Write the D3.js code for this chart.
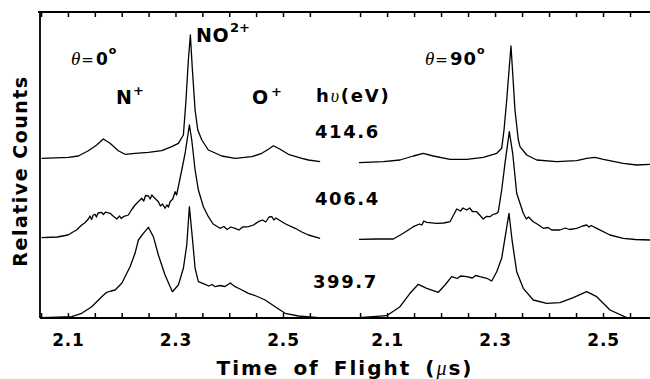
<!DOCTYPE html>
<html><head><meta charset="utf-8">
<script src="https://cdn.jsdelivr.net/npm/d3@7"></script>
<style>body{margin:0;background:#fff}svg{display:block}</style>
</head><body><svg id="c" width="650" height="379"></svg>
<script>
// ---------- data ----------
const energies = ["414.6", "406.4", "399.7"];
const angles = ["0", "90"];
const tickValues = [2.05, 2.10, 2.15, 2.20, 2.25, 2.30, 2.35, 2.40, 2.45, 2.50, 2.55];
const tickLabels = ["2.1", "2.3", "2.5"];

// theta = 0 deg, counts (stacked, arbitrary units) vs time of flight (us)
const left414 = [[2.051,159.7],[2.1007,160.7],[2.1193,162],[2.1379,167.3],[2.1535,173],[2.1658,179],[2.1783,174.7],[2.1937,167.3],[2.2062,163.7],[2.2248,164.7],[2.2496,165.7],[2.2745,167.3],[2.2931,171.3],[2.3054,174.7],[2.3147,183],[2.3192,215],[2.324,258],[2.3277,283],[2.3315,248],[2.3365,208],[2.3415,188],[2.349,178],[2.3612,168],[2.3862,162],[2.4109,159.7],[2.442,161.3],[2.4606,164.7],[2.4729,168.7],[2.4822,172.3],[2.4947,168.7],[2.5101,163.7],[2.5351,159.7],[2.5474,158],[2.5691,156.3]];
const left406 = [[2.051,80.3],[2.080,81],[2.100,83],[2.107,85.3],[2.116,88],[2.1256,93],[2.131,95],[2.1379,99],[2.141,102],[2.144,98.5],[2.147,103],[2.1504,103.7],[2.153,101],[2.156,105],[2.1628,105.7],[2.166,103.5],[2.170,106],[2.1783,104.7],[2.184,102],[2.1908,99],[2.196,102],[2.199,99.5],[2.203,101.3],[2.2123,103],[2.218,108],[2.2248,113],[2.2373,119.7],[2.241,117],[2.2443,122.5],[2.2496,122],[2.253,119],[2.256,123],[2.2589,121.3],[2.2682,116.3],[2.272,112],[2.276,114],[2.2806,109.7],[2.284,113],[2.287,111],[2.290,116.3],[2.295,119],[2.2993,126.3],[2.302,123],[2.3054,131.3],[2.3117,148],[2.3179,164.7],[2.3259,193],[2.3303,178],[2.3365,148],[2.3426,128],[2.3519,111.3],[2.3612,101.3],[2.370,94],[2.383,89.7],[2.390,91.5],[2.396,88.5],[2.403,91],[2.4109,89.7],[2.418,88],[2.425,91],[2.4357,91.3],[2.445,93],[2.4543,96.3],[2.462,98],[2.468,96],[2.474,101],[2.4792,101.3],[2.483,98],[2.487,100],[2.4979,96.3],[2.505,94],[2.5226,89.7],[2.535,86],[2.5474,83],[2.5691,79.7]];
const left399 = [[2.051,0.3],[2.080,0.8],[2.107,1.3],[2.1256,4.7],[2.1442,11.3],[2.1628,21.3],[2.1721,25.7],[2.180,27],[2.1876,28],[2.2001,34.7],[2.2155,51.3],[2.2248,64.7],[2.231,78],[2.2403,84.7],[2.2496,90.7],[2.2589,81.3],[2.2682,63],[2.2806,43],[2.2942,26.3],[2.3054,33],[2.3147,49.7],[2.321,73],[2.3259,111.3],[2.3315,79.7],[2.3365,49.7],[2.3426,36.3],[2.3551,33.7],[2.362,32],[2.368,33.5],[2.3737,31.3],[2.383,32.5],[2.392,31.5],[2.3985,33.7],[2.402,35],[2.4109,31.3],[2.420,29],[2.4357,24.7],[2.450,22],[2.4668,18],[2.4854,11.3],[2.504,4.7],[2.5288,2],[2.550,1],[2.566,0.3]];

// theta = 90 deg
const right414 = [[2.048,155.3],[2.093,156.3],[2.1239,158],[2.1486,162],[2.1671,164.7],[2.1856,162],[2.2166,158.7],[2.2475,158.7],[2.2782,160.7],[2.3031,164.7],[2.3123,169.7],[2.3166,188],[2.3216,218],[2.3264,251.3],[2.3295,272],[2.3327,244.7],[2.3369,208],[2.3431,178],[2.3462,171.3],[2.3586,163],[2.3771,158],[2.4142,156.3],[2.4512,157.3],[2.4697,159.7],[2.4851,160.7],[2.5005,158.7],[2.5375,154.7],[2.5624,153],[2.587,153.7]];
const right406 = [[2.048,78.7],[2.080,79],[2.1115,79],[2.1301,84.7],[2.1486,91.3],[2.160,94],[2.1645,93],[2.168,97],[2.1734,95.7],[2.1919,94.7],[2.205,95],[2.2166,96.3],[2.229,109],[2.236,107],[2.2405,110],[2.2475,108],[2.253,110],[2.258,106.5],[2.266,106.3],[2.2782,99],[2.284,101.5],[2.2906,101.3],[2.296,103.5],[2.3031,104.7],[2.306,106.3],[2.3123,128],[2.3184,154.7],[2.3264,186.3],[2.3327,164.7],[2.3401,124.7],[2.3523,104.7],[2.358,99],[2.362,101],[2.3708,96.3],[2.378,94],[2.3894,89.7],[2.398,90.5],[2.405,88],[2.4203,88],[2.430,90],[2.438,88.5],[2.4512,89.7],[2.462,92],[2.4697,93],[2.474,91],[2.478,92.5],[2.4883,89.7],[2.5129,83],[2.5375,79.7],[2.560,78.5],[2.587,78]];
const right399 = [[2.048,0.3],[2.0993,2.3],[2.1239,11.3],[2.1425,24.7],[2.1578,33.7],[2.1734,29.7],[2.1949,25.7],[2.2073,33],[2.2197,41.3],[2.230,39.5],[2.236,42],[2.2475,41.3],[2.258,40],[2.264,42.5],[2.2721,41.3],[2.2845,39.7],[2.2938,37],[2.3031,46.3],[2.3123,59.7],[2.3203,86.3],[2.3258,104.7],[2.3319,76.3],[2.3401,46.3],[2.3523,29.7],[2.3708,18],[2.3957,14.7],[2.4203,15.3],[2.4449,20.3],[2.4697,26.3],[2.4883,21.3],[2.5129,8],[2.5438,0.3],[2.587,0]];

const panels = [
  {angle: angles[0], domain: [2.048, 2.5707], range: [40, 321], traces: [left414, left406, left399]},
  {angle: angles[1], domain: [2.048, 2.587], range: [359, 650], traces: [right414, right406, right399]}
];

// ---------- drawing ----------
const svg = d3.select("#c");
svg.append("rect").attr("width", 650).attr("height", 379).attr("fill", "#fff");
const yTop = 12, yBot = 318;
const y = d3.scaleLinear().domain([0, 306]).range([yBot, yTop]);
const bold = "'DejaVu Sans', sans-serif";
const serif = "'Liberation Serif', 'DejaVu Serif', serif";
const fmt = d3.format(".1f");

panels.forEach(p => {
  const x = d3.scaleLinear().domain(p.domain).range(p.range);
  const axB = d3.axisBottom(x).tickValues(tickValues).tickSize(-5).tickPadding(16)
    .tickFormat(d => (tickLabels.includes(fmt(d)) && Math.abs(d * 10 - Math.round(d * 10)) < 1e-6) ? fmt(d) : "");
  const gB = svg.append("g").attr("transform", `translate(0,${yBot})`).call(axB)
    .attr("font-size", null).attr("font-family", null);
  gB.select(".domain").remove();
  gB.selectAll("line").attr("stroke", "#000").attr("stroke-width", 1.5);
  gB.selectAll("text")
    .style("font-family", bold).style("font-weight", "bold").style("font-size", "17px")
    .style("letter-spacing", "0.8px").attr("fill", "#000");
  const axT = d3.axisTop(x).tickValues(tickValues).tickSize(-5).tickFormat("");
  const gT = svg.append("g").attr("transform", `translate(0,${yTop})`).call(axT);
  gT.select(".domain").remove();
  gT.selectAll("line").attr("stroke", "#000").attr("stroke-width", 1.5);

  const line = d3.line().x(d => x(d[0])).y(d => y(d[1]));
  p.traces.forEach(tr => {
    svg.append("path").datum(tr).attr("d", line)
      .attr("fill", "none").attr("stroke", "#000").attr("stroke-width", 1.3).attr("stroke-linejoin", "round");
  });
});

// frame
svg.append("path").attr("d", `M38,${yTop}H650M40,${yTop}V${yBot}M40,${yBot}H650`)
  .attr("fill", "none").attr("stroke", "#000").attr("stroke-width", 1.8);

function txt(xp, yp, s, size, opts = {}) {
  return svg.append("text").attr("x", xp).attr("y", yp).text(s)
    .attr("font-family", opts.family || bold).attr("font-weight", opts.weight || "bold")
    .attr("font-style", opts.style || "normal").attr("font-size", size)
    .attr("letter-spacing", opts.ls || 0).attr("fill", "#000");
}

// angle labels: theta, "=", value, degree mark
function angleLabel(x0, val, size) {
  const t = svg.append("text").attr("x", x0).attr("y", 65).attr("fill", "#000");
  t.append("tspan").attr("font-family", serif).attr("font-style", "italic").attr("font-size", 19).text("θ");
  t.append("tspan").attr("font-family", bold).attr("font-size", 15).attr("dx", 1).text("=");
  t.append("tspan").attr("font-family", bold).attr("font-weight", "bold").attr("font-size", size)
    .attr("dx", 2).attr("letter-spacing", 1).text(val);
  t.append("tspan").attr("font-family", bold).attr("font-weight", "bold").attr("font-size", 11)
    .attr("dy", -11).text("o");
}
angleLabel(71, angles[0], 17);
angleLabel(425, angles[1], 18);

// ion labels
txt(196, 42, "NO", 19, {ls: 0.5});
txt(230, 32, "2+", 13);
txt(116, 103.5, "N", 19);
txt(133, 95, "+", 13);
txt(252, 103.5, "O", 19);
txt(271, 96, "+", 13);

// photon energy labels
const hv = svg.append("text").attr("x", 316).attr("y", 101.5).attr("font-size", 18)
  .attr("font-family", bold).attr("font-weight", "bold").attr("letter-spacing", 1.8);
hv.append("tspan").text("h");
hv.append("tspan").attr("font-family", serif).attr("font-weight", "normal").attr("font-style", "italic").text("υ");
hv.append("tspan").text("(eV)");
const eY = [138.3, 205, 288];
energies.forEach((e, i) => txt(i === 2 ? 313 : 315, eY[i], e, 18, {ls: 1.6}));

// axis titles
svg.append("text").attr("transform", "translate(27,171) rotate(-90)").attr("text-anchor", "middle")
  .attr("font-family", bold).attr("font-weight", "bold").attr("font-size", 19)
  .attr("letter-spacing", 1.5).text("Relative Counts");
const tt = svg.append("text").attr("x", 345).attr("y", 375).attr("text-anchor", "middle")
  .attr("font-family", bold).attr("font-weight", "bold").attr("font-size", 20)
  .attr("letter-spacing", 2).attr("word-spacing", 5);
tt.append("tspan").text("Time of Flight (");
tt.append("tspan").attr("font-family", serif).attr("font-weight", "normal").attr("font-style", "italic").text("μ");
tt.append("tspan").text("s)");
</script>
</body></html>
